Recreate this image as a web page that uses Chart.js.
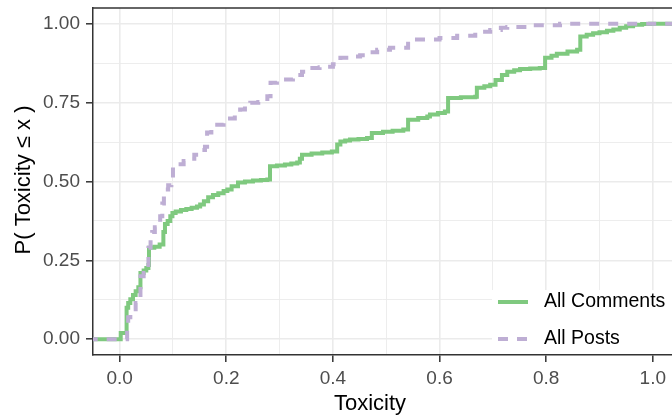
<!DOCTYPE html>
<html>
<head>
<meta charset="utf-8">
<script src="https://cdn.jsdelivr.net/npm/chart.js@4.4.1/dist/chart.umd.min.js"></script>
<style>
  html, body { margin: 0; padding: 0; background: #ffffff; overflow: hidden; }
  #wrap { width: 672px; height: 419px; }
</style>
</head>
<body>
<div id="wrap"><canvas id="c" width="672" height="419"></canvas></div>
<script>
// ---- Data ----
const seriesNames = ['All Comments', 'All Posts'];

const commentsX = [-0.06, 0.002, 0.013, 0.016, 0.020, 0.025, 0.030, 0.035, 0.039, 0.045, 0.050, 0.054, 0.055, 0.065, 0.075, 0.082, 0.085, 0.090, 0.095, 0.099, 0.105, 0.115, 0.125, 0.135, 0.145, 0.151, 0.158, 0.166, 0.175, 0.185, 0.195, 0.202, 0.210, 0.222, 0.235, 0.250, 0.265, 0.277, 0.282, 0.295, 0.310, 0.322, 0.333, 0.338, 0.342, 0.360, 0.380, 0.398, 0.408, 0.414, 0.423, 0.432, 0.448, 0.464, 0.473, 0.494, 0.512, 0.532, 0.541, 0.560, 0.577, 0.582, 0.597, 0.610, 0.616, 0.640, 0.667, 0.670, 0.684, 0.695, 0.705, 0.717, 0.727, 0.740, 0.751, 0.770, 0.788, 0.798, 0.810, 0.820, 0.840, 0.858, 0.864, 0.876, 0.888, 0.900, 0.914, 0.926, 0.938, 0.950, 0.963, 0.980, 0.995, 1.06];
const commentsY = [0, 0.02, 0.10, 0.115, 0.127, 0.14, 0.152, 0.165, 0.21, 0.218, 0.226, 0.235, 0.29, 0.293, 0.30, 0.34, 0.365, 0.375, 0.39, 0.40, 0.405, 0.41, 0.413, 0.417, 0.421, 0.427, 0.437, 0.45, 0.457, 0.463, 0.47, 0.475, 0.485, 0.497, 0.50, 0.503, 0.505, 0.506, 0.548, 0.551, 0.554, 0.557, 0.56, 0.572, 0.585, 0.589, 0.592, 0.595, 0.617, 0.627, 0.630, 0.633, 0.635, 0.638, 0.654, 0.658, 0.661, 0.665, 0.696, 0.701, 0.706, 0.712, 0.717, 0.722, 0.765, 0.767, 0.769, 0.797, 0.802, 0.807, 0.822, 0.838, 0.848, 0.853, 0.857, 0.858, 0.86, 0.892, 0.899, 0.905, 0.912, 0.918, 0.96, 0.965, 0.97, 0.973, 0.978, 0.982, 0.987, 0.992, 0.997, 0.999, 1.0, 1.0];

const postsX = [-0.06, 0.014, 0.016, 0.020, 0.025, 0.030, 0.035, 0.039, 0.045, 0.052, 0.054, 0.058, 0.061, 0.066, 0.072, 0.076, 0.080, 0.083, 0.086, 0.091, 0.097, 0.100, 0.110, 0.120, 0.130, 0.140, 0.151, 0.160, 0.164, 0.172, 0.183, 0.195, 0.207, 0.216, 0.226, 0.235, 0.245, 0.260, 0.277, 0.283, 0.295, 0.307, 0.325, 0.333, 0.342, 0.350, 0.357, 0.375, 0.389, 0.400, 0.408, 0.414, 0.430, 0.451, 0.465, 0.483, 0.507, 0.541, 0.600, 0.633, 0.667, 0.695, 0.715, 0.727, 0.770, 0.826, 1.06];
const postsY = [0, 0.03, 0.07, 0.08, 0.095, 0.115, 0.133, 0.20, 0.21, 0.22, 0.29, 0.315, 0.34, 0.355, 0.37, 0.39, 0.43, 0.455, 0.475, 0.488, 0.50, 0.548, 0.555, 0.565, 0.572, 0.585, 0.60, 0.61, 0.655, 0.665, 0.68, 0.69, 0.70, 0.713, 0.728, 0.74, 0.75, 0.752, 0.77, 0.813, 0.818, 0.823, 0.829, 0.838, 0.848, 0.855, 0.86, 0.862, 0.864, 0.872, 0.88, 0.892, 0.896, 0.90, 0.91, 0.918, 0.924, 0.95, 0.955, 0.962, 0.975, 0.98, 0.987, 0.99, 0.995, 1.0, 1.0];

const xMajorTicks = [0, 0.2, 0.4, 0.6, 0.8, 1.0];
const xMinorTicks = [0.1, 0.3, 0.5, 0.7, 0.9];
const xTickLabels = ['0.0', '0.2', '0.4', '0.6', '0.8', '1.0'];
const yMajorTicks = [0, 0.25, 0.5, 0.75, 1.0];
const yMinorTicks = [0.125, 0.375, 0.625, 0.875];
const yTickLabels = ['0.00', '0.25', '0.50', '0.75', '1.00'];

const xTitle = 'Toxicity';
const yTitle = 'P( Toxicity \u2264 x )';

// ---- Styling ----
const GREEN = '#7fc97f';
const PURPLE = '#beaed4';
const FONT = '"Liberation Sans", Arial, sans-serif';
const AXIS_DARK = '#333333';
const GRID = '#ebebeb';

function toPoints(xs, ys) { return xs.map((x, i) => ({ x: x, y: ys[i] })); }
function near(a, b) { return Math.abs(a - b) < 1e-6; }
function isIn(list, v) { return list.some(t => near(t, v)); }

function buildTicks(major, minor) {
  return function (scale) {
    const vals = major.concat(minor).sort((a, b) => a - b);
    scale.ticks = vals.map(v => ({ value: v }));
  };
}
function labelFor(major, labels) {
  return function (value) {
    const i = major.findIndex(t => near(t, value));
    return i >= 0 ? labels[i] : '';
  };
}

const decorPlugin = {
  id: 'decor',
  beforeDatasetsDraw(chart) {
    const ctx = chart.ctx;
    const a = chart.chartArea;
    ctx.save();
    ctx.strokeStyle = AXIS_DARK;
    ctx.lineWidth = 1.5;
    ctx.beginPath();
    ctx.moveTo(a.left, a.top);
    ctx.lineTo(a.right, a.top);
    ctx.stroke();
    ctx.restore();
  },
  afterDraw(chart) {
    const ctx = chart.ctx;
    const a = chart.chartArea;
    ctx.save();
    ctx.fillStyle = '#ffffff';
    ctx.fillRect(492, 290, a.right - 492, a.bottom - 1 - 290);
    ctx.lineWidth = 4;
    ctx.lineCap = 'butt';
    ctx.strokeStyle = GREEN;
    ctx.setLineDash([]);
    ctx.beginPath();
    ctx.moveTo(498, 302); ctx.lineTo(528, 302); ctx.stroke();
    ctx.strokeStyle = PURPLE;
    ctx.setLineDash([10, 9]);
    ctx.beginPath();
    ctx.moveTo(498, 339); ctx.lineTo(528, 339); ctx.stroke();
    ctx.setLineDash([]);
    ctx.fillStyle = '#000000';
    ctx.font = '19.5px ' + FONT;
    ctx.textAlign = 'left';
    ctx.textBaseline = 'middle';
    ctx.fillText(seriesNames[0], 544, 302);
    ctx.fillText(seriesNames[1], 544, 339);
    ctx.font = '22px ' + FONT;
    ctx.textAlign = 'center';
    ctx.textBaseline = 'alphabetic';
    ctx.fillText(xTitle, 370, 410);
    ctx.translate(24, 180);
    ctx.rotate(-Math.PI / 2);
    ctx.textBaseline = 'middle';
    ctx.fillText(yTitle, 0, 0);
    ctx.restore();
  }
};

new Chart(document.getElementById('c'), {
  type: 'line',
  data: {
    datasets: [
      {
        label: seriesNames[0],
        data: toPoints(commentsX, commentsY),
        borderColor: GREEN,
        borderWidth: 4,
        stepped: 'before',
        pointRadius: 0,
        fill: false,
        clip: 0,
        order: 2
      },
      {
        label: seriesNames[1],
        data: toPoints(postsX, postsY),
        borderColor: PURPLE,
        borderWidth: 4,
        borderDash: [10, 9],
        borderCapStyle: 'butt',
        stepped: 'before',
        pointRadius: 0,
        fill: false,
        clip: 0,
        order: 1
      }
    ]
  },
  options: {
    responsive: false,
    animation: false,
    layout: { padding: { top: 8, right: 0, bottom: 0, left: 0 } },
    plugins: { legend: { display: false }, tooltip: { enabled: false } },
    scales: {
      x: {
        type: 'linear',
        min: -0.05,
        max: 1.036,
        afterBuildTicks: buildTicks(xMajorTicks, xMinorTicks),
        afterFit(scale) { scale.height = 64; scale.paddingLeft = 0; scale.paddingRight = 0; },
        ticks: {
          autoSkip: false,
          maxRotation: 0,
          padding: 5,
          color: '#4d4d4d',
          font: { family: FONT, size: 19 },
          callback: labelFor(xMajorTicks, xTickLabels)
        },
        grid: {
          drawTicks: true,
          tickLength: 7,
          color: GRID,
          lineWidth: c => isIn(xMajorTicks, c.tick.value) ? 1.6 : 0.9,
          tickColor: c => isIn(xMajorTicks, c.tick.value) ? AXIS_DARK : 'rgba(0,0,0,0)',
          tickWidth: 1.5
        },
        border: { display: true, color: AXIS_DARK, width: 1.5 }
      },
      y: {
        type: 'linear',
        min: -0.05,
        max: 1.05,
        afterBuildTicks: buildTicks(yMajorTicks, yMinorTicks),
        afterFit(scale) { scale.width = 93; scale.paddingTop = 0; scale.paddingBottom = 0; },
        ticks: {
          autoSkip: false,
          padding: 6,
          color: '#4d4d4d',
          font: { family: FONT, size: 19 },
          callback: labelFor(yMajorTicks, yTickLabels)
        },
        grid: {
          drawTicks: true,
          tickLength: 7,
          color: GRID,
          lineWidth: c => isIn(yMajorTicks, c.tick.value) ? 1.6 : 0.9,
          tickColor: c => isIn(yMajorTicks, c.tick.value) ? AXIS_DARK : 'rgba(0,0,0,0)',
          tickWidth: 1.5
        },
        border: { display: true, color: AXIS_DARK, width: 1.5 }
      }
    }
  },
  plugins: [decorPlugin]
});
</script>
</body>
</html>
